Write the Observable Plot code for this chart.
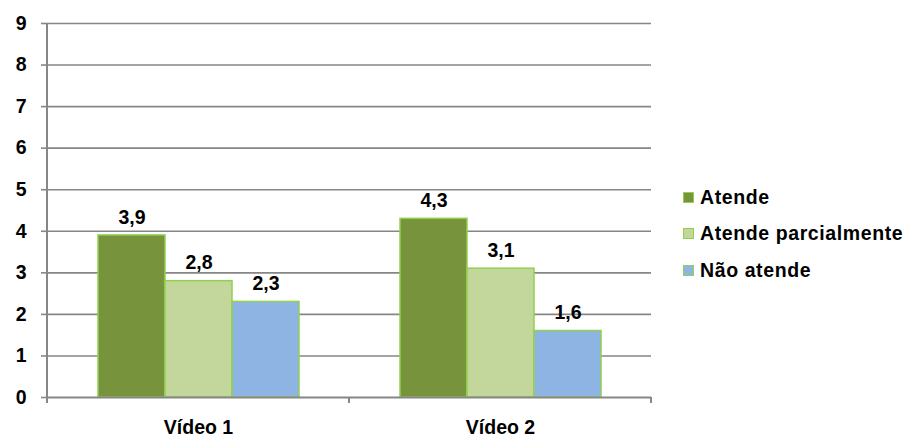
<!DOCTYPE html>
<html>
<head>
<meta charset="utf-8">
<script src="https://cdn.jsdelivr.net/npm/d3@7"></script>
<script src="https://cdn.jsdelivr.net/npm/@observablehq/plot@0.6"></script>
<style>
  html, body { margin: 0; padding: 0; background: white; }
  #wrap { position: relative; width: 911px; height: 439px; font-family: "Liberation Sans", Arial, sans-serif; }
  #legend { position: absolute; left: 683px; top: 179px; }
  .item { display: flex; align-items: center; height: 36.5px; font-size: 19.5px; font-weight: bold; color: #000; white-space: nowrap; letter-spacing: 0.6px; }
  .sw { width: 9px; height: 9px; border: 1.5px solid #92D050; margin-right: 6px; }
</style>
</head>
<body>
<div id="wrap"></div>
<script>
const videos = ["Vídeo 1", "Vídeo 2"];
const series = ["Atende", "Atende parcialmente", "Não atende"];
const video1 = [3.9, 2.8, 2.3];
const video2 = [4.3, 3.1, 1.6];
const colors = ["#77933C", "#C3D69B", "#8EB4E3"];
const yTicks = [0, 1, 2, 3, 4, 5, 6, 7, 8, 9];

const values = [video1, video2];
const data = [];
videos.forEach((v, vi) => series.forEach((s, si) => data.push({video: v, serie: s, value: values[vi][si]})));

const grey = "#868686";
const font = "Liberation Sans, Arial, sans-serif";

const plot = Plot.plot({
  width: 911,
  height: 439,
  marginLeft: 47,
  marginRight: 260,
  marginTop: 23,
  marginBottom: 42,
  style: {fontFamily: font, background: "white", color: "black"},
  fx: {domain: videos, padding: 0, label: null},
  x: {domain: series, paddingInner: 0, paddingOuter: 0.75, axis: null},
  y: {domain: [0, 9], axis: null},
  color: {domain: series, range: colors},
  marks: [
    Plot.ruleY(yTicks.slice(1), {stroke: grey, strokeWidth: 1.6}),
    Plot.barY(data, {fx: "video", x: "serie", y: "value", fill: "serie", stroke: "#92D050", strokeWidth: 1.5}),
    Plot.text(data, {fx: "video", x: "serie", y: "value", text: d => d.value.toFixed(1).replace(".", ","), dy: -18, fontWeight: "bold", fontSize: 19.5, fill: "black"}),
    Plot.axisY({ticks: yTicks, tickSize: 6, tickPadding: 15, fontSize: 19.5, fontWeight: "bold", stroke: grey, strokeWidth: 1.6, fill: "black", tickFormat: d => String(d), label: null}),
    Plot.axisFx({anchor: "bottom", tickSize: 0, tickPadding: 23, fontSize: 19.5, fontWeight: "bold", fill: "black", label: null}),
    Plot.ruleY([0], {stroke: grey, strokeWidth: 2})
  ]
});

// Axis lines derived from the plot's own scales
const fx = plot.scale("fx");
const y = plot.scale("y");
const svg = d3.select(plot);
const y0 = y.apply(0), y9 = y.apply(9);
const left = fx.apply(videos[0]);
const bounds = [left, fx.apply(videos[1]), fx.apply(videos[1]) + fx.bandwidth];
svg.append("line").attr("x1", left).attr("x2", left).attr("y1", y9).attr("y2", y0 + 6)
  .attr("stroke", grey).attr("stroke-width", 2);
bounds.forEach(b => svg.append("line").attr("x1", b).attr("x2", b).attr("y1", y0).attr("y2", y0 + 6)
  .attr("stroke", grey).attr("stroke-width", 2));

const wrap = document.getElementById("wrap");
wrap.appendChild(plot);

const legend = document.createElement("div");
legend.id = "legend";
series.forEach((s, i) => {
  const item = document.createElement("div");
  item.className = "item";
  const sw = document.createElement("span");
  sw.className = "sw";
  sw.style.background = colors[i];
  const t = document.createElement("span");
  t.textContent = s;
  item.appendChild(sw);
  item.appendChild(t);
  legend.appendChild(item);
});
wrap.appendChild(legend);
</script>
</body>
</html>
